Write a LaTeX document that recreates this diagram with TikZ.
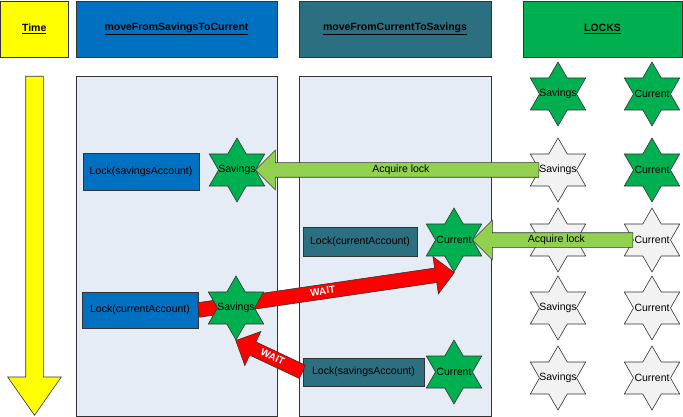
\documentclass[tikz,border=0pt]{standalone}
\usepackage{fontspec}
\setmainfont{Liberation Sans}
\usetikzlibrary{shapes.geometric,shapes.arrows,calc}

\definecolor{timeyellow}{RGB}{255,255,0}
\definecolor{savblue}{RGB}{0,112,192}
\definecolor{curteal}{RGB}{44,111,128}
\definecolor{lockgreen}{RGB}{0,176,80}
\definecolor{lanebg}{RGB}{230,236,246}
\definecolor{freegray}{RGB}{242,242,242}
\definecolor{acquiregreen}{RGB}{146,208,80}
\definecolor{waitred}{RGB}{255,0,0}

\newcommand{\blockarrow}[4]{%
  \path let \p1=($(#2)-(#1)$), \n1={atan2(\y1,\x1)}, \n2={veclen(\x1,\y1)},
    \n3={ifthenelse(abs(\n1)>90,\n1-180,\n1)}, \n4={ifthenelse(abs(\n1)>90,180,0)} in
    node[#3, minimum height=\n2, rotate=\n3, shape border rotate=\n4, anchor=tail] at (#1) {#4};}

\begin{document}
\begin{tikzpicture}[x=1pt, y=-1pt, font=\fontsize{10.5}{12}\selectfont,
    outline/.style={draw=black!80, line width=0.6pt},
    header/.style={outline, minimum height=56pt, inner sep=0pt, font=\fontsize{10.5}{12}\selectfont\bfseries},
    lane/.style={outline, fill=lanebg, minimum height=340pt, inner sep=0pt},
    lockbox/.style={outline, inner sep=0pt},
    lockstar/.style={outline, star, star points=6, star point ratio=1.732,
        minimum size=64pt, inner sep=0pt, fill=lockgreen, label={[inner sep=0pt]center:#1}},
    freestar/.style={lockstar=#1, fill=freegray},
    acquire/.style={outline, single arrow, fill=acquiregreen, single arrow head extend=12.5pt,
        inner xsep=2pt, inner ysep=2.25pt, text height=7.5pt, text depth=2pt},
    wait/.style={outline, single arrow, fill=waitred, single arrow head extend=11.5pt,
        inner xsep=2pt, inner ysep=2.25pt, text height=7.5pt, text depth=2pt,
        text=white, font=\fontsize{10}{12}\selectfont\bfseries}
]
    \useasboundingbox (0,0) rectangle (683,417);

    \node[header, fill=timeyellow, minimum width=67.5pt] (time) at (34.25,29) {\underline{Time}};
    \node[header, fill=savblue, minimum width=201pt] (savhead) at (176.5,29) {\underline{moveFromSavingsToCurrent}};
    \node[header, fill=curteal, minimum width=192pt] (curhead) at (395,29) {\underline{moveFromCurrentToSavings}};
    \node[header, fill=lockgreen, minimum width=159pt] (lockhead) at (602.5,29) {\underline{LOCKS}};

    \node[outline, single arrow, fill=timeyellow, minimum height=339pt, inner ysep=8.5pt, inner xsep=0pt,
        single arrow head extend=18pt, single arrow tip angle=70, rotate=-90, anchor=tail] (timeline) at (34.5,76) {};

    \node[lane, minimum width=201pt] (savlane) at (176.5,246) {};
    \node[lane, minimum width=192pt] (curlane) at (395,246) {};

    \node[lockbox, fill=savblue, minimum width=116pt, minimum height=37pt] (savlock1) at (141,171.5) {Lock(savingsAccount)};
    \node[lockbox, fill=savblue, minimum width=116pt, minimum height=36pt] (savlock2) at (140,310) {Lock(currentAccount)};
    \node[lockbox, fill=curteal, minimum width=114pt, minimum height=29pt] (curlock1) at (360,241.5) {Lock(currentAccount)};
    \node[lockbox, fill=curteal, minimum width=121pt, minimum height=28pt] (curlock2) at (363.5,372) {Lock(savingsAccount)};

    \node[lockstar=Savings] (savstar1) at (237,170) {};
    \node[lockstar=Current] (curstar1) at (454,240) {};
    \node[lockstar=Current] (curstar2) at (454,372) {};

    \node[lockstar=Savings] (ls1) at (558,94) {};
    \node[lockstar=Current] (lc1) at (652,94) {};
    \node[freestar=Savings] (ls2) at (558,170) {};
    \node[lockstar=Current] (lc2) at (652,170) {};
    \node[freestar=Savings] (ls3) at (558,240) {};
    \node[freestar=Current] (lc3) at (652,240) {};
    \node[freestar=Savings] (ls4) at (558,308) {};
    \node[freestar=Current] (lc4) at (652,308) {};
    \node[freestar=Savings] (ls5) at (558,378) {};
    \node[freestar=Current] (lc5) at (652,378) {};

    \blockarrow{savlock2.east}{curstar1.south}{wait}{WAIT}
    \node[lockstar=Savings] (savstar2) at (236,308) {};
    \blockarrow{curlock2.west}{savstar2.south}{wait}{WAIT}

    \blockarrow{ls2.west}{savstar1.east}{acquire}{Acquire lock}
    \blockarrow{lc3.west}{curstar1.east}{acquire}{Acquire lock}
\end{tikzpicture}
\end{document}
